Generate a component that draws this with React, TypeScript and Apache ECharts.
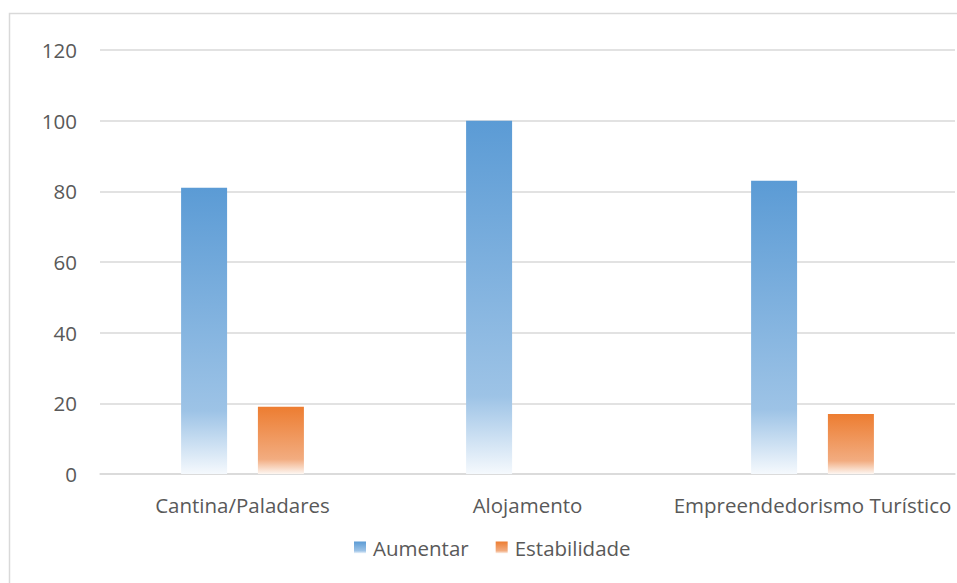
import React, { useEffect, useRef } from "react";
import * as echarts from "echarts";

const categories = ["Cantina/Paladares", "Alojamento", "Empreendedorismo Turístico"];
const aumentar = [81, 100, 83];
const estabilidade = [19, 0, 17];
const seriesNames = ["Aumentar", "Estabilidade"];

const FONT = "Open Sans";
const TEXT = "#595959";

function grad(c0: string, c1: string, c2: string) {
  return new echarts.graphic.LinearGradient(0, 0, 0, 1, [
    { offset: 0, color: c0 },
    { offset: 0.78, color: c1 },
    { offset: 1, color: c2 },
  ]);
}

export default function App() {
  const ref = useRef<HTMLDivElement>(null);
  useEffect(() => {
    document.body.style.margin = "0";
    const chart = echarts.init(ref.current!, null, { renderer: "svg" });
    const blue = grad("#5B9BD5", "#9DC3E6", "#F5F9FD");
    const orange = grad("#ED7D31", "#F2AC80", "#FDF6F1");
    chart.setOption({
      animation: false,
      backgroundColor: "#ffffff",
      textStyle: { fontFamily: FONT },
      graphic: [
        {
          type: "rect",
          shape: { x: 9.5, y: 13.5, width: 960, height: 600 },
          style: { fill: "none", stroke: "#d9d9d9", lineWidth: 1.5 },
          silent: true,
        },
      ],
      grid: { left: 100, right: 2, top: 50, bottom: 109, containLabel: false },
      legend: {
        data: seriesNames,
        bottom: 20,
        left: 349,
        itemWidth: 12,
        itemHeight: 12,
        itemGap: 27,
        icon: "rect",
        textStyle: { fontFamily: FONT, fontSize: 20.5, color: TEXT, padding: [0, 0, 0, 2] },
      },
      xAxis: {
        type: "category",
        data: categories,
        axisLine: { lineStyle: { color: "#d9d9d9", width: 1.5 } },
        axisTick: { show: false },
        axisLabel: { fontFamily: FONT, fontSize: 20.5, color: TEXT, margin: 20, interval: 0 },
      },
      yAxis: {
        type: "value",
        min: 0,
        max: 120,
        interval: 20,
        axisLine: { show: false },
        axisTick: { show: false },
        splitLine: { lineStyle: { color: "#d9d9d9", width: 1.5 } },
        axisLabel: { fontFamily: FONT, fontSize: 20.5, color: TEXT, margin: 23 },
      },
      series: [
        {
          name: seriesNames[0],
          type: "bar",
          data: aumentar,
          barWidth: 46,
          barGap: "67%",
          itemStyle: { color: blue },
        },
        {
          name: seriesNames[1],
          type: "bar",
          data: estabilidade,
          barWidth: 46,
          itemStyle: { color: orange },
        },
      ],
    });
    return () => chart.dispose();
  }, []);
  return <div ref={ref} style={{ width: 957, height: 583 }} />;
}
